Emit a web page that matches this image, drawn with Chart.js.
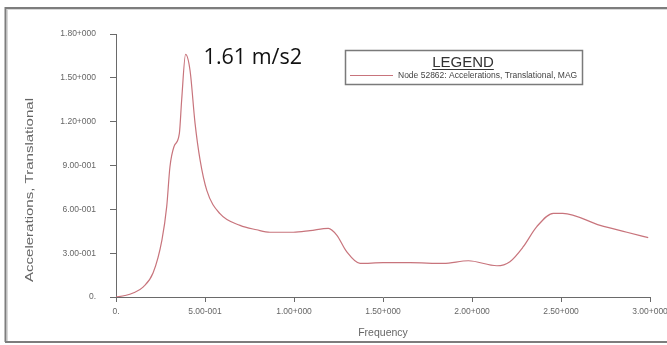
<!DOCTYPE html>
<html>
<head>
<meta charset="utf-8">
<script src="https://cdn.jsdelivr.net/npm/chart.js@4.4.0/dist/chart.umd.min.js"></script>
<style>
html,body{margin:0;padding:0;background:#fff;}
#wrap{width:667px;height:345px;position:relative;}
</style>
</head>
<body>
<div id="wrap"><canvas id="c" width="667" height="345"></canvas></div>
<script>
// ---- data ----
const frequency = [0, 0.05, 0.096, 0.152, 0.208, 0.258, 0.285, 0.303, 0.326, 0.356, 0.369, 0.391, 0.416, 0.444, 0.472, 0.51, 0.584, 0.697, 0.79, 0.865, 0.996, 1.09, 1.193, 1.24, 1.296, 1.371, 1.5, 1.652, 1.84, 1.98, 2.14, 2.213, 2.288, 2.363, 2.457, 2.51, 2.72, 2.87, 2.99];
const acceleration = [0, 0.01, 0.027, 0.068, 0.164, 0.39, 0.62, 0.89, 1.03, 1.12, 1.35, 1.66, 1.55, 1.19, 0.94, 0.73, 0.57, 0.49, 0.46, 0.443, 0.443, 0.454, 0.47, 0.424, 0.31, 0.23, 0.235, 0.235, 0.23, 0.248, 0.214, 0.242, 0.344, 0.48, 0.573, 0.573, 0.49, 0.443, 0.406];
const xTickValues = [0, 0.5, 1.0, 1.5, 2.0, 2.5, 3.0];
const xTickLabels = ["0.", "5.00-001", "1.00+000", "1.50+000", "2.00+000", "2.50+000", "3.00+000"];
const yTickValues = [0, 0.3, 0.6, 0.9, 1.2, 1.5, 1.8];
const yTickLabels = ["0.", "3.00-001", "6.00-001", "9.00-001", "1.20+000", "1.50+000", "1.80+000"];
const seriesName = "Node 52862: Accelerations, Translational, MAG";
const peakLabel = "1.61 m/s2";
const legendTitle = "LEGEND";
const xTitle = "Frequency";
const yTitle = "Accelerations, Translational";

const points = frequency.map((f, i) => ({x: f, y: acceleration[i]}));
function labelFor(values, labels, v) {
  for (let i = 0; i < values.length; i++) if (Math.abs(values[i] - v) < 1e-6) return labels[i];
  return "";
}

const lineColor = '#c8747c';
const axisColor = '#6a6a6a';
const tickFont = {family: 'Liberation Sans, Arial, sans-serif', size: 8.5};

const decor = {
  id: 'decor',
  afterDraw(chart) {
    const ctx = chart.ctx;
    const xs = chart.scales.x, ys = chart.scales.y;
    ctx.save();
    // outer frame
    ctx.strokeStyle = '#7d7d7d';
    ctx.lineWidth = 2;
    ctx.beginPath();
    ctx.moveTo(5.5, 342); ctx.lineTo(5.5, 8); ctx.lineTo(667, 8);
    ctx.stroke();
    ctx.beginPath();
    ctx.moveTo(5, 342); ctx.lineTo(667, 342);
    ctx.stroke();
    ctx.strokeStyle = '#d8d8d8';
    ctx.lineWidth = 1;
    ctx.beginPath();
    ctx.moveTo(7, 9.5); ctx.lineTo(667, 9.5);
    ctx.moveTo(7.5, 9); ctx.lineTo(7.5, 341);
    ctx.stroke();
    // x-axis extension left of y axis
    ctx.strokeStyle = axisColor;
    ctx.beginPath();
    const y0 = Math.round(ys.getPixelForValue(0)) + 0.5;
    ctx.moveTo(xs.left - 6, y0); ctx.lineTo(xs.left, y0);
    ctx.stroke();

    // y-axis title (stretched along its length like the reference)
    ctx.save();
    ctx.translate(30, 190);
    ctx.rotate(-Math.PI / 2);
    ctx.font = '10.5px "Liberation Sans", Arial, sans-serif';
    const yw = ctx.measureText(yTitle).width;
    ctx.scale(184 / yw, 1);
    ctx.fillStyle = '#666';
    ctx.textAlign = 'center';
    ctx.textBaseline = 'middle';
    ctx.fillText(yTitle, 0, 0);
    ctx.restore();

    // peak annotation
    let pi = 0;
    acceleration.forEach((v, i) => { if (v > acceleration[pi]) pi = i; });
    const px = xs.getPixelForValue(frequency[pi]);
    const py = ys.getPixelForValue(acceleration[pi]);
    ctx.fillStyle = '#111';
    ctx.font = '21.5px "Open Sans", sans-serif';
    ctx.textBaseline = 'alphabetic';
    ctx.textAlign = 'left';
    ctx.fillText(peakLabel, px + 18, py + 10);

    // legend box
    const bx = 345.5, by = 50.5, bw = 237, bh = 34;
    ctx.fillStyle = '#fff';
    ctx.fillRect(bx, by, bw, bh);
    ctx.strokeStyle = '#7a7a7a';
    ctx.lineWidth = 1.5;
    ctx.strokeRect(bx, by, bw, bh);
    ctx.fillStyle = '#333';
    ctx.font = '15px "Liberation Sans", Arial, sans-serif';
    ctx.textAlign = 'center';
    ctx.fillText(legendTitle, 463, 67);
    const tw = ctx.measureText(legendTitle).width;
    ctx.strokeStyle = '#333';
    ctx.lineWidth = 1;
    ctx.beginPath();
    ctx.moveTo(463 - tw / 2, 69.5); ctx.lineTo(463 + tw / 2, 69.5);
    ctx.stroke();
    ctx.strokeStyle = lineColor;
    ctx.lineWidth = 1.2;
    ctx.beginPath();
    ctx.moveTo(350, 75.5); ctx.lineTo(393, 75.5);
    ctx.stroke();
    ctx.fillStyle = '#444';
    ctx.font = '8.5px "Liberation Sans", Arial, sans-serif';
    ctx.textAlign = 'left';
    ctx.textBaseline = 'middle';
    ctx.fillText(seriesName, 398, 75.5);
    ctx.restore();
  }
};

new Chart(document.getElementById('c'), {
  type: 'line',
  data: {
    datasets: [{
      label: seriesName,
      data: points,
      borderColor: lineColor,
      borderWidth: 1.2,
      pointRadius: 0,
      fill: false,
      cubicInterpolationMode: 'monotone'
    }]
  },
  options: {
    responsive: false,
    animation: false,
    devicePixelRatio: 1,
    layout: {padding: {top: 34, right: 17, left: 0, bottom: 0}},
    plugins: {legend: {display: false}, tooltip: {enabled: false}},
    scales: {
      x: {
        type: 'linear', min: 0, max: 3,
        afterBuildTicks(s) { s.ticks = xTickValues.map(v => ({value: v})); },
        afterFit(s) { s.height = 48; s.paddingRight = 0; s.paddingLeft = 0; },
        ticks: {
          callback: v => labelFor(xTickValues, xTickLabels, v),
          color: '#666', font: tickFont, padding: 5, maxRotation: 0, autoSkip: false
        },
        grid: {drawOnChartArea: false, drawTicks: true, tickLength: 5, color: axisColor},
        border: {display: true, color: axisColor, width: 1},
        title: {display: true, text: xTitle, color: '#666',
                font: {family: 'Liberation Sans, Arial, sans-serif', size: 10.5}, padding: {top: 0, bottom: 6}}
      },
      y: {
        type: 'linear', min: 0, max: 1.8,
        afterBuildTicks(s) { s.ticks = yTickValues.map(v => ({value: v})); },
        afterFit(s) { s.width = 116; s.paddingTop = 0; s.paddingBottom = 0; },
        ticks: {
          callback: v => labelFor(yTickValues, yTickLabels, v),
          color: '#666', font: tickFont, padding: 14, autoSkip: false
        },
        grid: {drawOnChartArea: false, drawTicks: true, tickLength: 6, color: axisColor},
        border: {display: true, color: axisColor, width: 1},
        title: {display: false}
      }
    }
  },
  plugins: [decor]
});
</script>
</body>
</html>
